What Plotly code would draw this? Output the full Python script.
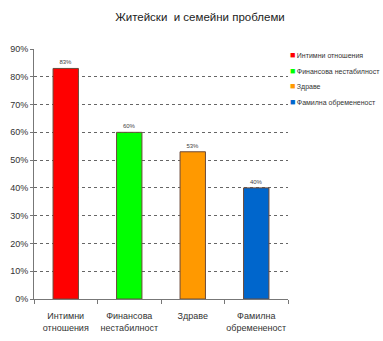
import plotly.graph_objects as go

categories = ["Интимни<br>отношения", "Финансова<br>нестабилност", "Здраве", "Фамилна<br>обремененост"]
legend_names = ["Интимни отношения", "Финансова нестабилност", "Здраве", "Фамилна обремененост"]
values = [0.83, 0.60, 0.53, 0.40]
colors = ["#FF0000", "#00FF00", "#FF9900", "#0066CC"]

FONT = "Liberation Sans, Arial, sans-serif"

fig = go.Figure()
for cat, name, val, col in zip(categories, legend_names, values, colors):
    fig.add_trace(go.Bar(
        x=[cat], y=[val], name=name,
        marker=dict(color=col, line=dict(color="#6b4a3a", width=1)),
        width=0.4,
        text=[f"{val:.0%}"], textposition="outside",
        textfont=dict(size=6, color="#444", family=FONT),
        cliponaxis=False,
        showlegend=False,
    ))

# compact legend: coloured square + label, stacked on the right
legend_top = 0.976
legend_step = 0.062
for i, (name, col) in enumerate(zip(legend_names, colors)):
    fig.add_annotation(
        xref="paper", yref="paper", x=1.0, y=legend_top - i * legend_step,
        xanchor="left", yanchor="middle", showarrow=False,
        text=f"<span style='color:{col};font-size:9px'>■</span>\u2009{name}",
        font=dict(size=7, color="#333", family=FONT),
    )

fig.update_layout(
    width=383, height=341,
    margin=dict(l=34, r=95, t=49, b=42, autoexpand=False),
    paper_bgcolor="white", plot_bgcolor="white",
    barmode="overlay",
    title=dict(text="Житейски\u00a0 и семейни проблеми", x=0.522, xanchor="center",
               y=0.95, yanchor="middle",
               font=dict(family=FONT, size=11.5, color="#222")),
    font=dict(family=FONT, color="#333"),
    showlegend=False,
)
fig.update_xaxes(
    showline=True, linecolor="#777", linewidth=1,
    ticks="outside", tickson="boundaries", ticklen=4, tickcolor="#777",
    tickangle=0, ticklabelstandoff=8,
    tickfont=dict(size=9, color="#333", family=FONT),
    showgrid=False,
)
fig.update_yaxes(
    range=[0, 0.9], dtick=0.1, tickformat=".0%",
    showline=True, linecolor="#777", linewidth=1,
    ticks="outside", ticklen=3, tickcolor="#777",
    tickfont=dict(size=9, color="#333", family=FONT),
    showgrid=True, gridcolor="#666", gridwidth=1, griddash="dot",
    zeroline=False,
)

fig.write_html("out.html")
